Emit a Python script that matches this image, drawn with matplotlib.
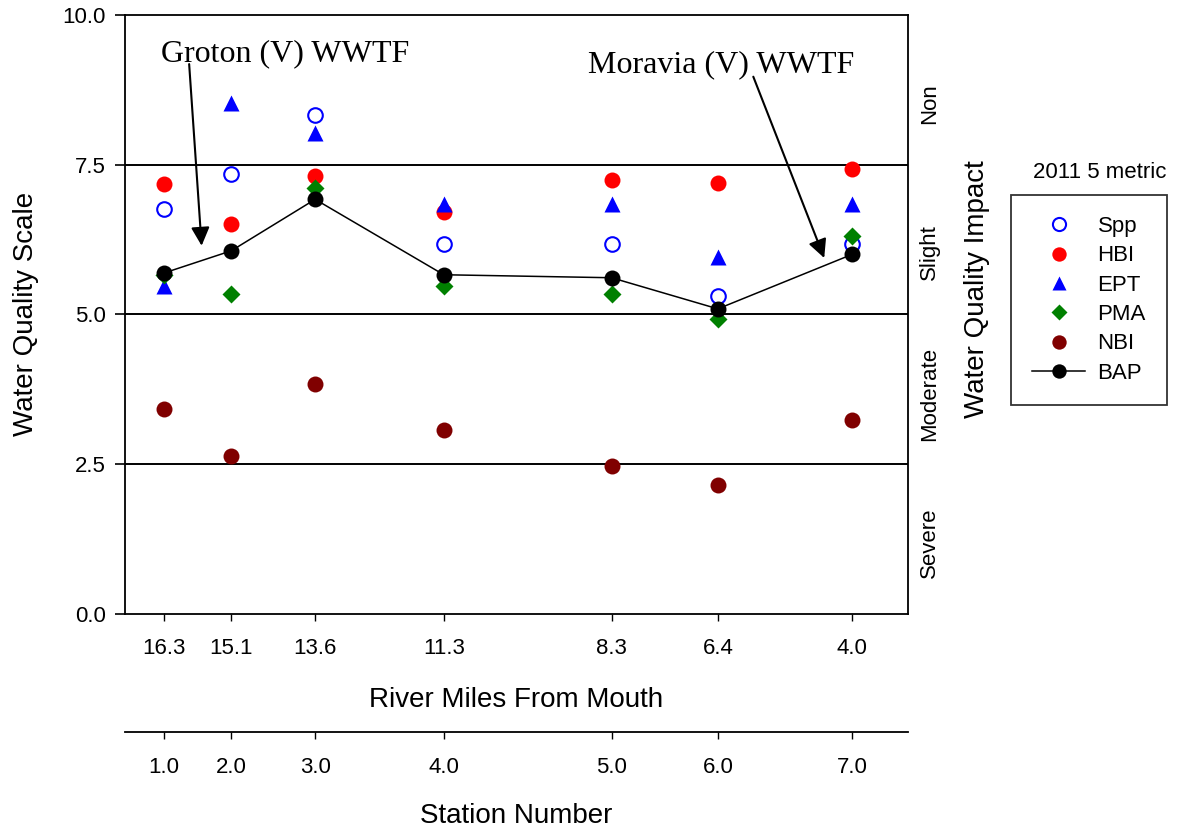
import matplotlib
matplotlib.use('Agg')
import matplotlib.pyplot as plt

plt.rcParams['font.family'] = ['Liberation Sans', 'DejaVu Sans']

# ---------------- data ----------------
river_miles = [16.3, 15.1, 13.6, 11.3, 8.3, 6.4, 4.0]
stations = [1.0, 2.0, 3.0, 4.0, 5.0, 6.0, 7.0]
spp = [6.76, 7.35, 8.33, 6.18, 6.18, 5.31, 6.18]
hbi = [7.18, 6.50, 7.31, 6.71, 7.25, 7.19, 7.43]
ept = [5.48, 8.53, 8.03, 6.85, 6.85, 5.95, 6.85]
pma = [5.65, 5.33, 7.11, 5.48, 5.33, 4.92, 6.30]
nbi = [3.41, 2.63, 3.83, 3.06, 2.46, 2.15, 3.23]
bap = [5.69, 6.06, 6.92, 5.66, 5.61, 5.09, 6.00]
y_ticks = [0.0, 2.5, 5.0, 7.5, 10.0]
impact_bounds = [2.5, 5.0, 7.5]
impact_labels = ['Non', 'Slight', 'Moderate', 'Severe']
legend_title = '2011 5 metric'

W, H = 1177, 832
fig = plt.figure(figsize=(W / 100, H / 100), dpi=100)
ax = fig.add_axes([125 / W, 1 - 613.5 / H, 783 / W, 598.5 / H])

for b in impact_bounds:
    ax.axhline(b, color='black', lw=1.4, zorder=1)

ax.plot(river_miles, spp, 'o', ls='none', mfc='none', mec='#0000ff', mew=1.5, ms=10.5, label='Spp', zorder=3)
ax.plot(river_miles, hbi, 'o', ls='none', color='#ff0000', mec='none', ms=11.5, label='HBI', zorder=3)
ax.plot(river_miles, ept, '^', ls='none', color='#0000ff', mec='none', ms=11, label='EPT', zorder=3)
ax.plot(river_miles, pma, 'D', ls='none', color='#008000', mec='none', ms=9.2, label='PMA', zorder=3)
ax.plot(river_miles, nbi, 'o', ls='none', color='#800000', mec='none', ms=11.5, label='NBI', zorder=3)
ax.plot(river_miles, bap, '-o', color='black', lw=1.1, mec='none', ms=11.5, label='BAP', zorder=4)

ax.set_xlim(17, 3)
ax.set_ylim(0, 10)
for s in ax.spines.values():
    s.set_linewidth(1.3)

ax.set_yticks(y_ticks)
ax.set_yticklabels([f'{v:.1f}' for v in y_ticks])
ax.set_xticks(river_miles)
ax.set_xticklabels([f'{m:.1f}' for m in river_miles])
ax.tick_params(axis='y', which='both', direction='out', length=7.2, width=1.2, pad=6.5,
               labelsize=16, left=True, right=False)
ax.tick_params(axis='x', which='both', direction='out', length=5, width=1.0, pad=12.5,
               labelsize=16, bottom=True, top=False)

ax.set_xlabel('River Miles From Mouth', fontsize=20)
ax.xaxis.label.set_va('baseline')
ax.xaxis.set_label_coords(0.5, (613.5 - 706.7) / 598.5)

ax.set_ylabel('Water Quality Scale', fontsize=20)
ax.yaxis.label.set_rotation_mode('anchor')
ax.yaxis.label.set_va('baseline')
ax.yaxis.label.set_ha('center')
ax.yaxis.set_label_coords((32.7 - 125) / 783, 0.5)

# secondary axis: station numbers
sec = ax.secondary_xaxis((613.5 - 731.7) / 598.5)
sec.set_xticks(river_miles)
sec.set_xticklabels([f'{s:.1f}' for s in stations])
sec.tick_params(axis='x', direction='out', length=5, width=1.0, pad=13.5, labelsize=16)
for s in sec.spines.values():
    s.set_linewidth(1.3)
sec.set_xlabel('Station Number', fontsize=20)
sec.xaxis.label.set_va('baseline')
sec.xaxis.set_label_coords(0.5, (613.5 - 823) / 598.5, transform=ax.transAxes)

# right-side impact labels
impact_y_px = [104, 252, 394, 542.5]
for lab, ypx in zip(impact_labels, impact_y_px):
    ax.text((935 - 125) / 783, (613.5 - ypx) / 598.5, lab, transform=ax.transAxes,
            rotation=90, rotation_mode='anchor', ha='center', va='baseline', fontsize=16)
ax.text((983.9 - 125) / 783, (613.5 - 289) / 598.5, 'Water Quality Impact', transform=ax.transAxes,
        rotation=90, rotation_mode='anchor', ha='center', va='baseline', fontsize=20)

# annotations
serif = ['Liberation Serif', 'DejaVu Serif']
ax.text(16.36, 9.236, 'Groton (V) WWTF', ha='left', va='baseline', fontsize=23, family=serif)
ax.annotate('', xy=(15.63, 6.145), xytext=(15.853, 9.18),
            arrowprops=dict(arrowstyle='-|>', mutation_scale=28, lw=1.5, color='black',
                            shrinkA=0, shrinkB=0))
ax.text(8.725, 9.043, 'Moravia (V) WWTF', ha='left', va='baseline', fontsize=23, family=serif)
ax.annotate('', xy=(4.498, 5.94), xytext=(5.766, 8.969),
            arrowprops=dict(arrowstyle='-|>', mutation_scale=28, lw=1.5, color='black',
                            shrinkA=0, shrinkB=0))

# legend
handles, labels = ax.get_legend_handles_labels()
leg = fig.legend(handles, labels, loc='upper left', bbox_to_anchor=(1010.7 / W, 1 - 195 / H),
                 bbox_transform=fig.transFigure, fontsize=16, frameon=True, fancybox=False,
                 edgecolor='black', borderpad=0.95, labelspacing=0.375, handlelength=2.41,
                 handletextpad=0.55, borderaxespad=0, markerscale=0.9, numpoints=1)
leg.get_frame().set_linewidth(1.3)
fig.text(1100 / W, 1 - 172 / H, legend_title, ha='center', va='center', fontsize=16)

fig.savefig('out.png', dpi=100)
